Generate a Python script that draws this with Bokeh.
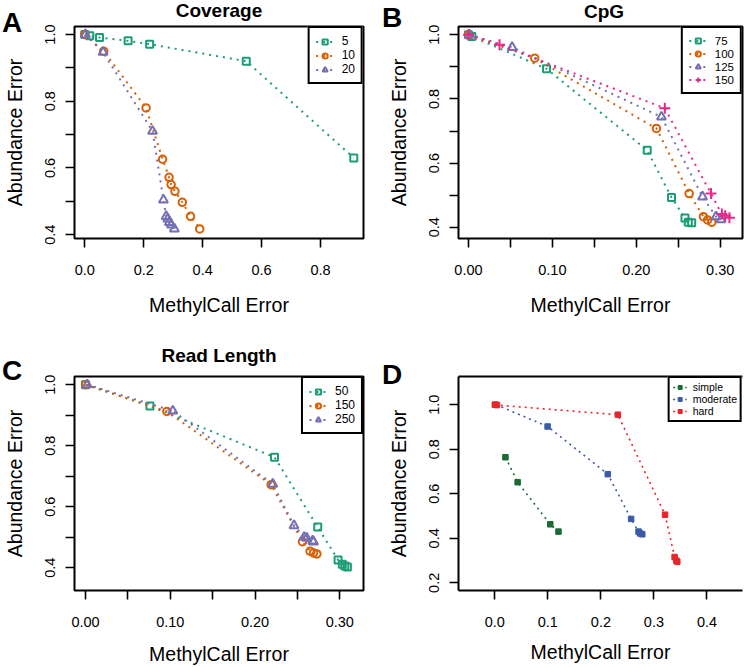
from bokeh.plotting import figure
from bokeh.models import (Range1d, FixedTicker, PrintfTickFormatter, Legend,
                          LegendItem, LinearAxis, GridBox, Div)
from bokeh.embed import file_html
from bokeh.resources import INLINE

FONT = "Liberation Sans"

# ---------------- data ----------------
# Panel A: Coverage
cov_labels = ["5", "10", "20"]
cov_x_5 = [0.0, 0.017, 0.05, 0.147, 0.22, 0.548, 0.913]
cov_y_5 = [1.0, 0.996, 0.991, 0.981, 0.971, 0.920, 0.630]
cov_x_10 = [0.0, 0.064, 0.208, 0.264, 0.286, 0.293, 0.306, 0.331, 0.359, 0.390]
cov_y_10 = [1.0, 0.950, 0.780, 0.626, 0.572, 0.550, 0.530, 0.497, 0.455, 0.417]
cov_x_20 = [0.002, 0.062, 0.230, 0.267, 0.276, 0.282, 0.287, 0.294, 0.304]
cov_y_20 = [1.0, 0.947, 0.710, 0.504, 0.455, 0.447, 0.437, 0.429, 0.417]

# Panel B: CpG
cpg_labels = ["75", "100", "125", "150"]
cpg_x_75 = [0.0, 0.004, 0.093, 0.213, 0.242, 0.258, 0.262, 0.266]
cpg_y_75 = [1.0, 0.995, 0.894, 0.640, 0.493, 0.429, 0.416, 0.414]
cpg_x_100 = [0.0, 0.079, 0.224, 0.263, 0.280, 0.285, 0.290]
cpg_y_100 = [1.0, 0.927, 0.708, 0.505, 0.433, 0.423, 0.416]
cpg_x_125 = [0.001, 0.052, 0.230, 0.279, 0.295, 0.301]
cpg_y_125 = [1.0, 0.961, 0.744, 0.495, 0.433, 0.424]
cpg_x_150 = [0.0, 0.037, 0.234, 0.289, 0.302, 0.306, 0.311]
cpg_y_150 = [1.0, 0.969, 0.771, 0.505, 0.441, 0.436, 0.430]

# Panel C: Read Length
rl_labels = ["50", "150", "250"]
rl_x_50 = [0.0, 0.076, 0.223, 0.274, 0.298, 0.303, 0.306, 0.309]
rl_y_50 = [1.0, 0.930, 0.762, 0.533, 0.425, 0.411, 0.405, 0.402]
rl_x_150 = [0.0, 0.096, 0.219, 0.256, 0.265, 0.269, 0.273]
rl_y_150 = [1.0, 0.912, 0.672, 0.485, 0.454, 0.448, 0.445]
rl_x_250 = [0.002, 0.103, 0.221, 0.246, 0.258, 0.261, 0.268, 0.269]
rl_y_250 = [1.0, 0.914, 0.674, 0.538, 0.500, 0.497, 0.488, 0.484]

# Panel D: difficulty
dif_labels = ["simple", "moderate", "hard"]
dif_x_simple = [0.020, 0.043, 0.1045, 0.120]
dif_y_simple = [0.764, 0.652, 0.463, 0.430]
dif_x_moderate = [0.002, 0.0995, 0.213, 0.257, 0.271, 0.274, 0.278]
dif_y_moderate = [1.0, 0.902, 0.688, 0.487, 0.430, 0.422, 0.418]
dif_x_hard = [0.0, 0.004, 0.232, 0.321, 0.339, 0.342, 0.344]
dif_y_hard = [1.0, 0.998, 0.955, 0.506, 0.316, 0.300, 0.295]

# tick values
ticks_a_x = [0.0, 0.2, 0.4, 0.6, 0.8]
ticks_y = [0.4, 0.6, 0.8, 1.0]
minor_y = [0.5, 0.7, 0.9]
ticks_bc_x = [0.0, 0.1, 0.2, 0.3]
minor_bc_x = [0.05, 0.15, 0.25]
ticks_d_x = [0.0, 0.1, 0.2, 0.3, 0.4]
ticks_d_y = [0.2, 0.4, 0.6, 0.8, 1.0]

DARK2 = ["#1B9E77", "#D95F02", "#7570B3", "#E7298A"]
DIFF_COLORS = ["#1D6B35", "#3A5CA8", "#E8252B"]
MARKERS = ["square", "circle", "triangle", "cross"]
MSIZE = {"square": 7, "circle": 7.5, "triangle": 9, "cross": 11, "dot": 5.5}

W = 372


def style_axes(p, xt, xminor, xfmt, yt, yminor, show_line, x_title_standoff):
    for ax, t, mn, fmt in ((p.xaxis, xt, xminor, xfmt), (p.yaxis, yt, yminor, "%.1f")):
        ax.ticker = FixedTicker(ticks=t, minor_ticks=mn)
        ax.formatter = PrintfTickFormatter(format=fmt)
        ax.major_tick_out = 9
        ax.major_tick_in = 0
        ax.minor_tick_out = 9
        ax.minor_tick_in = 0
        ax.major_tick_line_width = 1.6
        ax.minor_tick_line_width = 1.6
        ax.major_tick_line_color = "black"
        ax.minor_tick_line_color = "black"
        ax.axis_line_color = "black" if show_line else None
        ax.axis_line_width = 2
        ax.major_label_text_font = FONT
        ax.major_label_text_font_size = "14.5px"
        ax.major_label_text_color = "black"
        ax.axis_label_text_font = FONT
        ax.axis_label_text_font_size = "19.5px"
        ax.axis_label_text_font_style = "normal"
        ax.axis_label_text_color = "black"
    p.xaxis.major_label_standoff = 17
    p.xaxis.axis_label_standoff = x_title_standoff
    p.yaxis.major_label_standoff = 10
    p.yaxis.axis_label_standoff = 17
    p.yaxis.major_label_orientation = "vertical"


def make_panel(h, xr, yr, borders, xt, xminor, xfmt, yt, yminor, outline=True,
               x_title_standoff=16):
    l, r, t, b = borders
    p = figure(width=W, height=h, x_range=Range1d(*xr), y_range=Range1d(*yr),
               output_backend="svg", toolbar_location=None,
               min_border_left=l, min_border_right=r, min_border_top=t,
               min_border_bottom=b,
               x_axis_label="MethylCall Error", y_axis_label="Abundance Error")
    p.xgrid.visible = False
    p.ygrid.visible = False
    p.background_fill_color = "white"
    p.border_fill_color = "white"
    if outline:
        p.outline_line_color = "black"
        p.outline_line_width = 2
        p.outline_line_alpha = 1
    else:
        p.outline_line_color = None
    style_axes(p, xt, xminor, xfmt, yt, yminor, not outline, x_title_standoff)
    return p


def add_series(p, xs, ys, colors, markers, labels):
    items = []
    for x, y, c, m, lab in zip(xs, ys, colors, markers, labels):
        if m == "dot":
            lr = p.line(x, y, line_color=c, line_width=1.6, line_dash="2 4")
            sr = p.scatter(x, y, marker="square", size=MSIZE[m], fill_color=c,
                           line_color=c, line_width=1)
        else:
            lr = p.line(x, y, line_color=c, line_width=2, line_dash="2 5")
            sr = p.scatter(x, y, marker=m, size=MSIZE[m], line_color=c,
                           fill_color=None, line_width=2)
        items.append(LegendItem(label=lab, renderers=[lr, sr]))
    return items


def add_legend(p, items, font_size, item_h, padding, glyph_w=18, standoff=8,
               label_w=12):
    leg = Legend(items=items, location="top_right", margin=0, padding=padding,
                 spacing=0, glyph_width=glyph_w, glyph_height=item_h,
                 label_height=item_h, label_width=label_w, label_standoff=standoff,
                 label_text_font=FONT, label_text_font_size=font_size,
                 label_text_color="black", border_line_color="black",
                 border_line_width=2, border_line_alpha=1,
                 background_fill_color="white", background_fill_alpha=1)
    p.add_layout(leg)
    return leg


def letter_div(txt, top, left):
    html = ('<div style="padding:%dpx 0 0 %dpx;font-family:\'%s\';font-size:28px;'
            'font-weight:bold;line-height:28px;color:black;">%s</div>') % (top, left, FONT, txt)
    return Div(text=html, width=50, height=70, margin=0)


def title_div(txt, top, center):
    w = 200
    html = ('<div style="padding-top:%dpx;margin-left:%dpx;width:%dpx;text-align:center;'
            'font-family:\'%s\';font-size:19px;font-weight:bold;line-height:17px;'
            'color:black;white-space:nowrap;">%s</div>') % (top, center - w // 2, w, FONT, txt)
    return Div(text=html, width=W, height=40, margin=0)


# Panel A
pA = make_panel(333, (-0.035, 0.946), (0.3884, 1.0241), (74, 9, 26, 88),
                ticks_a_x, [], "%.1f", ticks_y, minor_y, x_title_standoff=16)
itA = add_series(pA, [cov_x_5, cov_x_10, cov_x_20], [cov_y_5, cov_y_10, cov_y_20],
                 DARK2[:3], MARKERS[:3], cov_labels)
add_legend(pA, itA, "12px", 13, 6)

# Panel B
pB = make_panel(333, (-0.0119, 0.3266), (0.365, 1.0258), (86, 2, 25, 95),
                ticks_bc_x, minor_bc_x, "%.2f", ticks_y, minor_y, x_title_standoff=16)
itB = add_series(pB, [cpg_x_75, cpg_x_100, cpg_x_125, cpg_x_150],
                 [cpg_y_75, cpg_y_100, cpg_y_125, cpg_y_150],
                 DARK2, MARKERS, cpg_labels)
add_legend(pB, itB, "11.5px", 13, 6)

# Panel C
pC = make_panel(334, (-0.013, 0.328), (0.325, 1.0267), (74, 9, 39, 77),
                ticks_bc_x, minor_bc_x, "%.2f", ticks_y, minor_y, x_title_standoff=13)
itC = add_series(pC, [rl_x_50, rl_x_150, rl_x_250], [rl_y_50, rl_y_150, rl_y_250],
                 DARK2[:3], MARKERS[:3], rl_labels)
add_legend(pC, itC, "12px", 13, 6)

# Panel D
pD = make_panel(334, (-0.0685, 0.467), (0.1656, 1.1265), (85, 0, 43, 76),
                ticks_d_x, [], "%.1f", ticks_d_y, [], outline=False,
                x_title_standoff=11)
top_axis = LinearAxis(ticker=FixedTicker(ticks=[]), axis_line_width=2,
                      axis_line_color="black", major_tick_line_color=None,
                      minor_tick_line_color=None, major_label_text_font_size="0px")
pD.add_layout(top_axis, "above")
itD = add_series(pD, [dif_x_simple, dif_x_moderate, dif_x_hard],
                 [dif_y_simple, dif_y_moderate, dif_y_hard],
                 DIFF_COLORS, ["dot", "dot", "dot"], dif_labels)
add_legend(pD, itD, "10.5px", 10, 3, glyph_w=14, standoff=6)

children = [
    (pA, 0, 0), (pB, 0, 1), (pC, 1, 0), (pD, 1, 1),
    (title_div("Coverage", 2, 219), 0, 0),
    (title_div("CpG", 3, 232), 0, 1),
    (title_div("Read Length", 14, 219), 1, 0),
    (letter_div("A", 9, 2), 0, 0),
    (letter_div("B", 4, 10), 0, 1),
    (letter_div("C", 24, 2), 1, 0),
    (letter_div("D", 28, 10), 1, 1),
]
grid = GridBox(children=children, spacing=0)

with open("out.html", "w") as f:
    f.write(file_html(grid, INLINE))
